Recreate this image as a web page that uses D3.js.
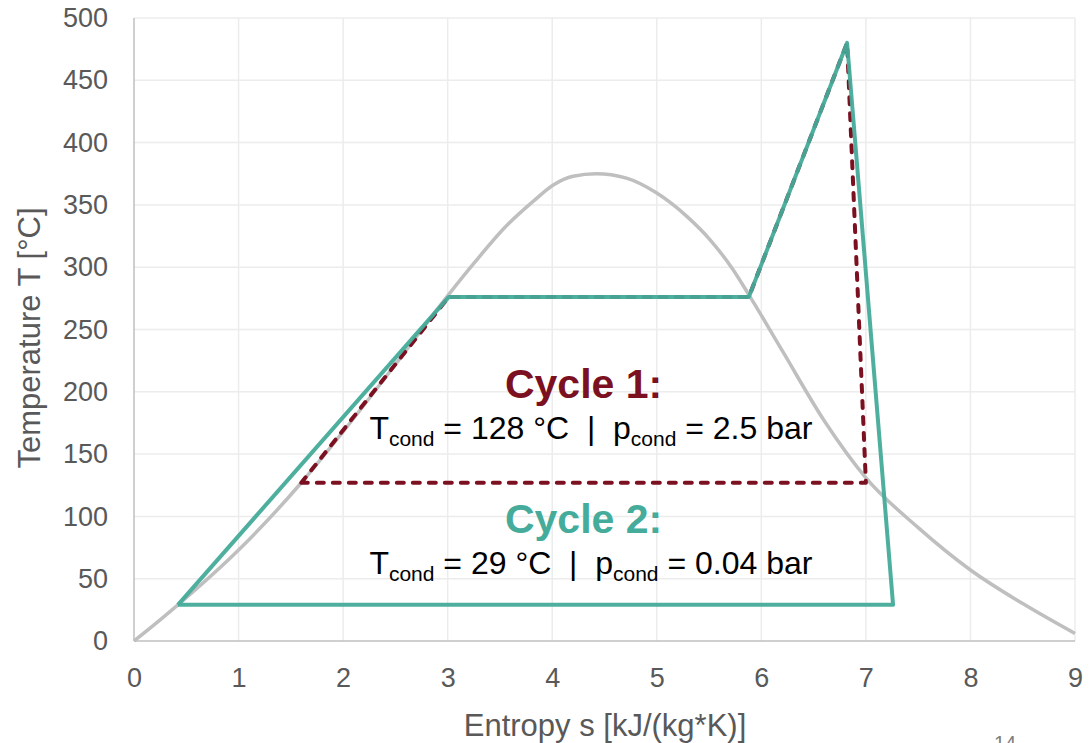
<!DOCTYPE html>
<html>
<head>
<meta charset="utf-8">
<script src="https://cdn.jsdelivr.net/npm/d3@7"></script>
<style>
  body { margin: 0; background: #ffffff; }
  svg { display: block; font-family: Arial, "Liberation Sans", sans-serif; }
</style>
</head>
<body>
<svg id="chart" width="1091" height="743"></svg>
<script>
// Saturation dome (entropy s, temperature T)
const domeS = [0, 0.25, 0.42, 1.0, 1.6, 2.0, 2.5, 3.0, 3.25, 3.56, 3.82, 4.01, 4.2, 4.42, 4.71, 5.0, 5.29, 5.51, 5.73, 5.88, 6.2, 6.6, 7.0, 7.5, 8.0, 8.5, 9.0];
const domeT = [0, 17, 29, 73, 127, 168, 222, 277, 303, 333, 353, 366, 373, 375, 371.5, 359.5, 340.6, 322, 298, 278, 233, 177, 131, 91, 57, 30, 6];

// Cycle 1 (condenser at 128 °C), dashed
const cycle1S = [1.60, 3.01, 5.88, 6.82, 7.0, 1.60];
const cycle1T = [127, 276, 276, 480, 127, 127];

// Cycle 2 (condenser at 29 °C)
const cycle2S = [0.42, 3.01, 5.88, 6.82, 7.26, 0.42];
const cycle2T = [29, 276, 276, 480, 29, 29];

// Axis ticks
const xTicks = [0, 1, 2, 3, 4, 5, 6, 7, 8, 9];
const yTicks = [0, 50, 100, 150, 200, 250, 300, 350, 400, 450, 500];

const svg = d3.select("#chart");
const x = d3.scaleLinear().domain([0, 9]).range([134, 1075]);
const y = d3.scaleLinear().domain([0, 500]).range([641, 18]);

const labelColor = "#595959";
const teal = "#45ab9a";
const wine = "#7b1020";

// gridlines
svg.append("g").selectAll("line").data(yTicks.slice(1)).join("line")
    .attr("x1", x(0)).attr("x2", x(9))
    .attr("y1", d => y(d)).attr("y2", d => y(d))
    .attr("stroke", "#ececec").attr("stroke-width", 1.5);
svg.append("g").selectAll("line").data(xTicks.slice(1)).join("line")
    .attr("x1", d => x(d)).attr("x2", d => x(d))
    .attr("y1", y(0)).attr("y2", y(500))
    .attr("stroke", "#ececec").attr("stroke-width", 1.5);

// axis lines
svg.append("line").attr("x1", x(0)).attr("x2", x(0)).attr("y1", y(0)).attr("y2", y(500))
    .attr("stroke", "#bfbfbf").attr("stroke-width", 1.5);
svg.append("line").attr("x1", x(0)).attr("x2", x(9)).attr("y1", y(0)).attr("y2", y(0))
    .attr("stroke", "#bfbfbf").attr("stroke-width", 1.5);

// tick labels
const gx = svg.append("g").attr("transform", `translate(0,${y(0)})`)
    .call(d3.axisBottom(x).tickValues(xTicks).tickSize(0).tickPadding(27).tickFormat(d3.format("d")));
const gy = svg.append("g").attr("transform", `translate(${x(0)},0)`)
    .call(d3.axisLeft(y).tickValues(yTicks).tickSize(0).tickPadding(26).tickFormat(d3.format("d")));
[gx, gy].forEach(g => {
    g.select(".domain").remove();
    g.selectAll("text").attr("fill", labelColor).style("font-size", "27px")
        .style("font-family", "Arial, 'Liberation Sans', sans-serif");
});

// axis titles
svg.append("text").attr("x", 605).attr("y", 736).attr("text-anchor", "middle")
    .attr("fill", labelColor).style("font-size", "31px").text("Entropy s [kJ/(kg*K)]");
svg.append("text").attr("transform", "translate(40,338) rotate(-90)").attr("text-anchor", "middle")
    .attr("fill", labelColor).style("font-size", "31px").text("Temperature T [°C]");

const line = d3.line().x(d => x(d[0])).y(d => y(d[1]));

// dome
svg.append("path")
    .attr("d", line.curve(d3.curveMonotoneX)(domeS.map((s, i) => [s, domeT[i]])))
    .attr("fill", "none").attr("stroke", "#bfbfbf").attr("stroke-width", 3.5);
line.curve(d3.curveLinear);

// cycle 1 dashed
svg.append("path")
    .attr("d", line(cycle1S.map((s, i) => [s, cycle1T[i]])))
    .attr("fill", "none").attr("stroke", wine).attr("stroke-width", 4)
    .attr("stroke-dasharray", "7,9").attr("stroke-linecap", "round").attr("stroke-linejoin", "round");

// cycle 2
svg.append("path")
    .attr("d", line(cycle2S.map((s, i) => [s, cycle2T[i]])))
    .attr("fill", "none").attr("stroke", teal).attr("stroke-width", 4)
    .attr("stroke-opacity", 0.95).attr("stroke-linejoin", "round");

// annotations
function condText(sx, ty, temp, press) {
    const t = svg.append("text").attr("x", x(sx)).attr("y", y(ty))
        .attr("text-anchor", "middle").attr("fill", "#000").style("font-size", "32px");
    t.append("tspan").text("T");
    t.append("tspan").attr("dy", 7).style("font-size", "21px").text("cond");
    t.append("tspan").attr("dy", -7).text(` = ${temp} °C \u00a0|\u00a0 p`);
    t.append("tspan").attr("dy", 7).style("font-size", "21px").text("cond");
    t.append("tspan").attr("dy", -7).text(` = ${press} bar`);
}

svg.append("text").attr("x", x(4.30)).attr("y", y(195)).attr("text-anchor", "middle")
    .attr("fill", wine).style("font-size", "41px").style("font-weight", "bold").text("Cycle 1:");
condText(4.37, 162.5, "128", "2.5");
svg.append("text").attr("x", x(4.30)).attr("y", y(86.7)).attr("text-anchor", "middle")
    .attr("fill", teal).style("font-size", "41px").style("font-weight", "bold").text("Cycle 2:");
condText(4.37, 54, "29", "0.04");

// slide page number (cut off at the bottom edge, as on the slide)
svg.append("text").attr("x", 1005).attr("y", 750).attr("text-anchor", "middle")
    .attr("fill", "#7f7f7f").style("font-size", "20px").text("14");
</script>
</body>
</html>
